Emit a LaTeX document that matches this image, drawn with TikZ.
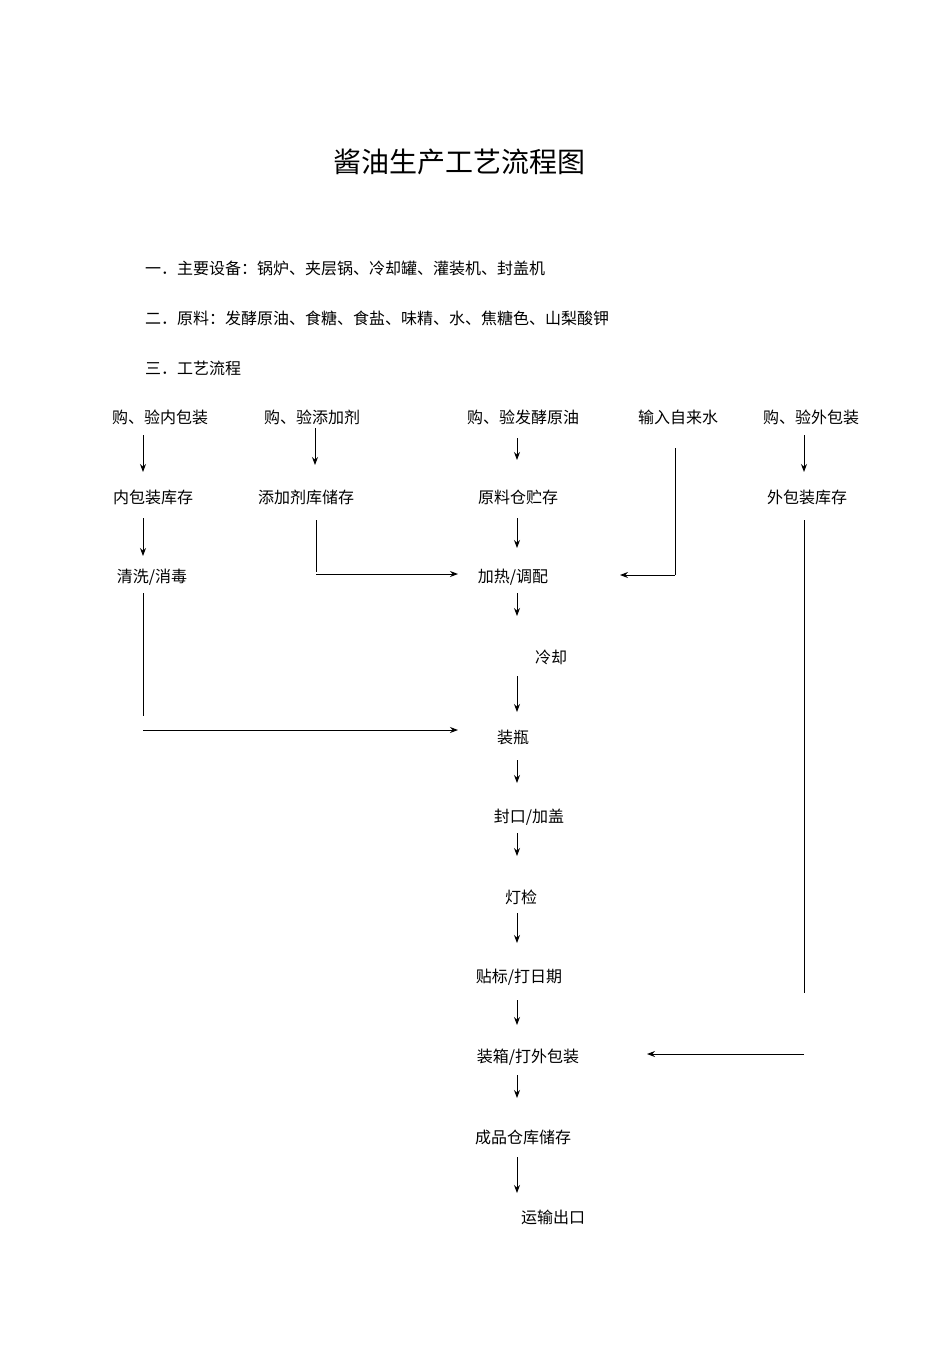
\documentclass[tikz,border=0pt]{standalone}
\usepackage{fontspec}
\usetikzlibrary{arrows.meta}
\setmainfont{Noto Sans CJK SC}
\begin{document}
\begin{tikzpicture}[x=1pt,y=-1pt,
 lbl/.style={font=\fontsize{16}{18}\selectfont,inner sep=0pt},
 arr/.style={-{Stealth[length=8pt,width=6pt]},line width=1pt},
 ln/.style={line width=1pt}]
\useasboundingbox (0,0) rectangle (950,1345);
\node[font=\fontsize{28}{32}\selectfont] (title) at (459,162) {酱油生产工艺流程图};
\node[lbl,anchor=west] (l1) at (145,268) {一．主要设备：锅炉、夹层锅、冷却罐、灌装机、封盖机};
\node[lbl,anchor=west] (l2) at (145,318) {二．原料：发酵原油、食糖、食盐、味精、水、焦糖色、山梨酸钾};
\node[lbl,anchor=west] (l3) at (145,368) {三．工艺流程};
\node[lbl] (a1) at (160,417) {购、验内包装};
\node[lbl] (b1) at (312,417) {购、验添加剂};
\node[lbl] (c1) at (523,417) {购、验发酵原油};
\node[lbl] (d1) at (678,417) {输入自来水};
\node[lbl] (e1) at (811,417) {购、验外包装};
\node[lbl] (a2) at (153,497) {内包装库存};
\node[lbl] (b2) at (306,497) {添加剂库储存};
\node[lbl] (c2) at (518,497) {原料仓贮存};
\node[lbl] (e2) at (807,497) {外包装库存};
\node[lbl] (a3) at (152,577) {清洗/消毒};
\node[lbl] (c3) at (513,577) {加热/调配};
\node[lbl] (c4) at (551,657) {冷却};
\node[lbl] (c5) at (513,737) {装瓶};
\node[lbl] (c6) at (529,817) {封口/加盖};
\node[lbl] (c7) at (521,897) {灯检};
\node[lbl] (c8) at (519,977) {贴标/打日期};
\node[lbl] (c9) at (528,1057) {装箱/打外包装};
\node[lbl] (c10) at (523,1137) {成品仓库储存};
\node[lbl] (c11) at (553,1217) {运输出口};
\draw[arr] (143,435) -- (143,472);
\draw[arr] (315,428) -- (315,465);
\draw[arr] (517,438) -- (517,460);
\draw[arr] (804,435) -- (804,472);
\draw[arr] (143,518) -- (143,556);
\draw[arr] (517,518) -- (517,548);
\draw[ln] (316,520) -- (316,572);
\draw[arr] (316,574) -- (458,574);
\draw[ln] (675,448) -- (675,575);
\draw[arr] (675,575) -- (620,575);
\draw[arr] (517,593) -- (517,616);
\draw[arr] (517,676) -- (517,712);
\draw[ln] (143,593) -- (143,716);
\draw[arr] (143,730) -- (458,730);
\draw[arr] (517,760) -- (517,783);
\draw[arr] (517,833) -- (517,856);
\draw[arr] (517,913) -- (517,943);
\draw[arr] (517,1000) -- (517,1025);
\draw[ln] (804,520) -- (804,993);
\draw[arr] (804,1054) -- (647,1054);
\draw[arr] (517,1075) -- (517,1098);
\draw[arr] (517,1157) -- (517,1193);
\end{tikzpicture}
\end{document}
